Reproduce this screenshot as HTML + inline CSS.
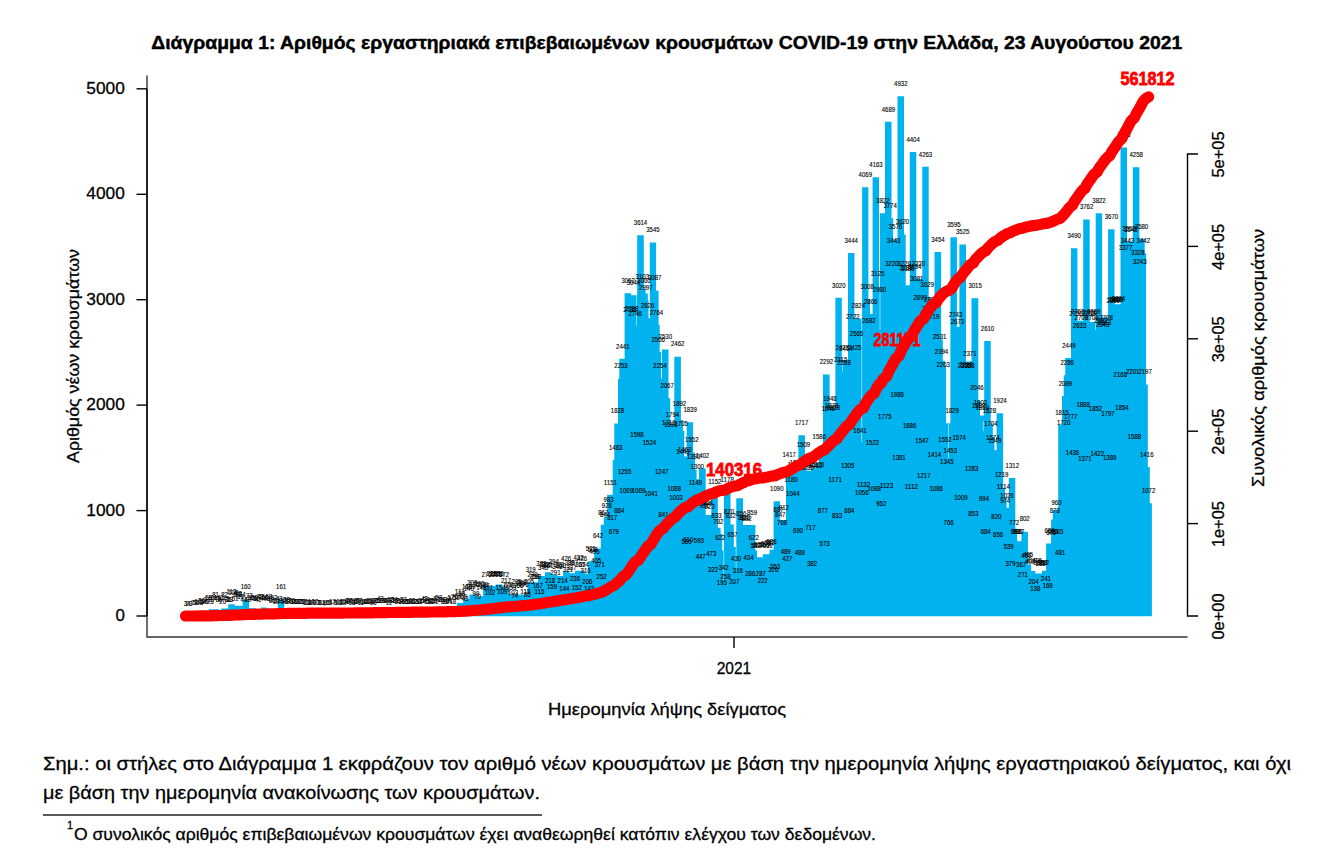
<!DOCTYPE html>
<html lang="el"><head><meta charset="utf-8"><title>Διάγραμμα 1</title>
<style>html,body{margin:0;padding:0;background:#fff;overflow:hidden}body{width:1328px;height:852px;font-family:"Liberation Sans",sans-serif}</style></head>
<body>
<svg width="1328" height="852" viewBox="0 0 1328 852" style="display:block;font-family:'Liberation Sans',sans-serif">
<style>.t text{stroke:#000;stroke-width:.28px}</style>
<rect width="1328" height="852" fill="#fff"/>
<path d="M181.75 616.20L181.75 615.78 L188.00 615.78L188.00 615.36 L193.00 615.36L193.00 614.09 L197.00 614.09L197.00 612.51 L203.00 612.51L203.00 610.93 L208.90 610.93L208.90 609.14 L218.90 609.14L218.90 610.93 L221.20 610.93L221.20 608.50 L228.30 608.50L228.30 604.29 L234.75 604.29L234.75 605.66 L242.70 605.66L242.70 599.33 L249.10 599.33L249.10 608.29 L256.00 608.29L256.00 609.24 L261.00 609.24L261.00 607.55 L266.50 607.55L266.50 609.87 L271.00 609.87L271.00 611.77 L277.90 611.77L277.90 599.23 L284.20 599.23L284.20 611.98 L290.00 611.98L290.00 613.46 L297.00 613.46L297.00 614.09 L306.00 614.09L306.00 614.72 L318.00 614.72L318.00 614.93 L330.00 614.93L330.00 614.51 L345.00 614.51L345.00 613.88 L360.00 613.88L360.00 613.25 L372.00 613.25L372.00 612.40 L384.00 612.40L384.00 613.04 L396.00 613.04L396.00 612.40 L408.00 612.40L408.00 611.77 L420.00 611.77L420.00 612.19 L432.00 612.19L432.00 611.35 L444.00 611.35L444.00 610.72 L451.00 610.72L451.00 608.82 L456.90 608.82L456.90 602.92 L463.10 602.92L463.10 599.33 L469.40 599.33L469.40 594.38 L475.60 594.38L475.60 596.17 L483.10 596.17L483.10 586.05 L495.60 586.05L495.60 584.57 L502.50 584.57L502.50 587.52 L509.40 587.52L509.40 594.59 L527.50 594.59L527.50 582.15 L538.10 582.15L538.10 575.93 L545.00 575.93L545.00 572.24 L551.25 572.24L551.25 574.66 L557.50 574.66L557.50 575.93 L563.10 575.93L563.10 571.29 L569.40 571.29L569.40 573.18 L575.00 573.18L575.00 570.65 L585.00 570.65L585.00 573.71 L588.10 573.71L588.10 561.27 L594.25 561.27L594.25 548.51 L600.75 548.51L600.75 524.79 L603.80 524.79L603.80 516.78 L607.20 516.78L607.20 494.85 L612.70 494.85L612.70 459.85 L614.30 459.85L614.30 423.47 L618.00 423.47L618.00 378.67 L619.30 378.67L619.30 358.85 L624.60 358.85L624.60 293.37 L631.20 293.37L631.20 295.27 L637.20 295.27L637.20 235.18 L643.80 235.18L643.80 289.05 L645.60 289.05L645.60 293.58 L647.80 293.58L647.80 300.23 L648.60 300.23L648.60 318.25 L649.80 318.25L649.80 242.45 L656.10 242.45L656.10 290.74 L658.60 290.74L658.60 324.79 L659.70 324.79L659.70 351.99 L661.10 351.99L661.10 378.56 L661.90 378.56L661.90 349.46 L668.50 349.46L668.50 398.28 L670.20 398.28L670.20 424.32 L674.30 424.32L674.30 356.63 L680.90 356.63L680.90 420.10 L682.90 420.10L682.90 430.64 L684.30 430.64L684.30 456.58 L686.70 456.58L686.70 422.31 L693.00 422.31L693.00 452.57 L694.90 452.57L694.90 469.65 L696.60 469.65L696.60 479.14 L699.00 479.14L699.00 468.39 L705.70 468.39L705.70 514.99 L711.30 514.99L711.30 494.74 L717.80 494.74L717.80 527.85 L720.60 527.85L720.60 533.75 L722.20 533.75L722.20 550.62 L723.90 550.62L723.90 492.00 L730.50 492.00L730.50 524.48 L733.80 524.48L733.80 546.93 L736.30 546.93L736.30 498.33 L743.00 498.33L743.00 524.90 L755.40 524.90L755.40 550.62 L757.00 550.62L757.00 557.16 L762.80 557.16L762.80 554.31 L769.50 554.31L769.50 549.78 L773.60 549.78L773.60 501.28 L779.90 501.28L779.90 520.05 L786.00 520.05L786.00 466.81 L792.30 466.81L792.30 468.60 L798.40 468.60L798.40 435.18 L804.90 435.18L804.90 457.11 L806.70 457.11L806.70 470.71 L810.90 470.71L810.90 468.18 L815.90 468.18L815.90 463.33 L819.00 463.33L819.00 448.99 L823.00 448.99L823.00 374.55 L829.60 374.55L829.60 407.55 L835.40 407.55L835.40 297.80 L841.80 297.80L841.80 360.22 L848.00 360.22L848.00 253.10 L854.40 253.10L854.40 318.47 L862.10 318.47L862.10 187.21 L868.40 187.21L868.40 299.07 L870.10 299.07L870.10 314.04 L872.60 314.04L872.60 177.29 L879.00 177.29L879.00 286.73 L880.00 286.73L880.00 213.25 L885.00 213.25L885.00 121.84 L891.50 121.84L891.50 218.31 L893.10 218.31L893.10 239.18 L897.50 239.18L897.50 96.22 L904.00 96.22L904.00 234.54 L905.70 234.54L905.70 285.15 L909.80 285.15L909.80 151.89 L916.30 151.89L916.30 278.82 L922.30 278.82L922.30 166.75 L928.70 166.75L928.70 296.85 L930.50 296.85L930.50 310.45 L934.50 310.45L934.50 252.04 L941.10 252.04L941.10 339.55 L942.80 339.55L942.80 360.85 L944.90 360.85L944.90 367.07 L946.10 367.07L946.10 423.37 L950.40 423.37L950.40 237.18 L956.90 237.18L956.90 327.01 L959.40 327.01L959.40 244.56 L966.00 244.56L966.00 361.59 L971.50 361.59L971.50 298.33 L978.30 298.33L978.30 400.49 L980.00 400.49L980.00 415.57 L984.20 415.57L984.20 341.03 L990.70 341.03L990.70 423.47 L992.80 423.47L992.80 436.55 L994.50 436.55L994.50 450.25 L996.60 450.25L996.60 413.35 L1003.10 413.35L1003.10 487.68 L1004.90 487.68L1004.90 498.75 L1006.60 498.75L1006.60 507.82 L1008.90 507.82L1008.90 477.88 L1015.30 477.88L1015.30 528.69 L1017.20 528.69L1017.20 541.13 L1021.40 541.13L1021.40 531.65 L1027.90 531.65L1027.90 564.54 L1031.20 564.54L1031.20 571.08 L1035.40 571.08L1035.40 573.50 L1042.00 573.50L1042.00 570.87 L1046.10 570.87L1046.10 543.56 L1051.10 543.56L1051.10 519.52 L1052.80 519.52L1052.80 509.93 L1058.20 509.93L1058.20 424.84 L1062.00 424.84L1062.00 395.96 L1063.70 395.96L1063.70 375.19 L1065.30 375.19L1065.30 358.00 L1071.00 358.00L1071.00 248.25 L1077.40 248.25L1077.40 320.79 L1083.20 320.79L1083.20 219.57 L1089.70 219.57L1089.70 322.05 L1095.70 322.05L1095.70 213.25 L1102.10 213.25L1102.10 317.31 L1108.10 317.31L1108.10 229.27 L1114.50 229.27L1114.50 304.13 L1120.50 304.13L1120.50 147.46 L1127.00 147.46L1127.00 241.71 L1132.80 241.71L1132.80 167.28 L1139.40 167.28L1139.40 238.76 L1144.70 238.76L1144.70 253.31 L1146.10 253.31L1146.10 384.57 L1147.80 384.57L1147.80 466.91 L1149.80 466.91L1149.80 503.18 L1151.90 503.18L1151.90 616.20Z" fill="#00b2ee"/>
<g stroke="#fff" stroke-width="0.7" stroke-opacity="0.75">
<path d="M861.7 318.0V442.0"/>
<path d="M948.5 423.0V458.0"/>
<path d="M723.8 550.0V583.0"/>
<path d="M736.1 546.0V569.0"/>
<path d="M636.5 295.0V326.0"/>
<path d="M649.4 300.0V318.0"/>
<path d="M880.0 287.0V330.0"/>
<path d="M1095.6 320.0V330.0"/>
<path d="M983.3 421.0V431.0"/>
<path d="M842.5 360.5V371.5"/>
</g>
<g font-size="7" fill="#000" stroke="#000" stroke-width="0.12" text-anchor="middle">
<text x="185.5" y="605.6" textLength="3.4" lengthAdjust="spacingAndGlyphs">3</text>
<text x="187.3" y="605.7" textLength="3.4" lengthAdjust="spacingAndGlyphs">2</text>
<text x="189.0" y="605.5" textLength="3.4" lengthAdjust="spacingAndGlyphs">4</text>
<text x="190.8" y="605.6" textLength="3.4" lengthAdjust="spacingAndGlyphs">3</text>
<text x="192.6" y="605.2" textLength="3.4" lengthAdjust="spacingAndGlyphs">7</text>
<text x="194.4" y="605.4" textLength="3.4" lengthAdjust="spacingAndGlyphs">5</text>
<text x="196.1" y="605.1" textLength="3.4" lengthAdjust="spacingAndGlyphs">8</text>
<text x="197.9" y="604.2" textLength="6.7" lengthAdjust="spacingAndGlyphs">16</text>
<text x="199.7" y="604.5" textLength="6.7" lengthAdjust="spacingAndGlyphs">13</text>
<text x="201.4" y="603.2" textLength="6.7" lengthAdjust="spacingAndGlyphs">26</text>
<text x="203.2" y="604.4" textLength="6.7" lengthAdjust="spacingAndGlyphs">14</text>
<text x="205.0" y="604.3" textLength="6.7" lengthAdjust="spacingAndGlyphs">15</text>
<text x="206.8" y="602.0" textLength="6.7" lengthAdjust="spacingAndGlyphs">37</text>
<text x="208.5" y="600.1" textLength="6.7" lengthAdjust="spacingAndGlyphs">55</text>
<text x="210.3" y="603.5" textLength="6.7" lengthAdjust="spacingAndGlyphs">23</text>
<text x="212.1" y="602.0" textLength="6.7" lengthAdjust="spacingAndGlyphs">37</text>
<text x="213.8" y="599.5" textLength="6.7" lengthAdjust="spacingAndGlyphs">61</text>
<text x="215.6" y="597.4" textLength="6.7" lengthAdjust="spacingAndGlyphs">81</text>
<text x="217.4" y="601.4" textLength="6.7" lengthAdjust="spacingAndGlyphs">43</text>
<text x="219.1" y="602.2" textLength="6.7" lengthAdjust="spacingAndGlyphs">35</text>
<text x="220.9" y="599.5" textLength="6.7" lengthAdjust="spacingAndGlyphs">61</text>
<text x="222.7" y="603.8" textLength="6.7" lengthAdjust="spacingAndGlyphs">20</text>
<text x="224.5" y="597.3" textLength="6.7" lengthAdjust="spacingAndGlyphs">82</text>
<text x="226.2" y="601.2" textLength="6.7" lengthAdjust="spacingAndGlyphs">45</text>
<text x="228.0" y="602.2" textLength="6.7" lengthAdjust="spacingAndGlyphs">35</text>
<text x="229.8" y="602.4" textLength="6.7" lengthAdjust="spacingAndGlyphs">33</text>
<text x="231.5" y="594.0" textLength="10.1" lengthAdjust="spacingAndGlyphs">113</text>
<text x="233.3" y="594.5" textLength="10.1" lengthAdjust="spacingAndGlyphs">108</text>
<text x="235.1" y="600.5" textLength="6.7" lengthAdjust="spacingAndGlyphs">51</text>
<text x="236.9" y="596.7" textLength="6.7" lengthAdjust="spacingAndGlyphs">87</text>
<text x="238.6" y="596.1" textLength="6.7" lengthAdjust="spacingAndGlyphs">93</text>
<text x="240.4" y="598.6" textLength="6.7" lengthAdjust="spacingAndGlyphs">69</text>
<text x="242.2" y="597.0" textLength="6.7" lengthAdjust="spacingAndGlyphs">84</text>
<text x="243.9" y="601.6" textLength="6.7" lengthAdjust="spacingAndGlyphs">41</text>
<text x="245.7" y="589.0" textLength="10.1" lengthAdjust="spacingAndGlyphs">160</text>
<text x="247.5" y="601.7" textLength="6.7" lengthAdjust="spacingAndGlyphs">40</text>
<text x="249.2" y="598.3" textLength="6.7" lengthAdjust="spacingAndGlyphs">72</text>
<text x="251.0" y="600.1" textLength="6.7" lengthAdjust="spacingAndGlyphs">55</text>
<text x="252.8" y="600.9" textLength="6.7" lengthAdjust="spacingAndGlyphs">47</text>
<text x="254.6" y="599.8" textLength="6.7" lengthAdjust="spacingAndGlyphs">58</text>
<text x="256.3" y="600.6" textLength="6.7" lengthAdjust="spacingAndGlyphs">50</text>
<text x="258.1" y="601.6" textLength="6.7" lengthAdjust="spacingAndGlyphs">41</text>
<text x="259.9" y="598.5" textLength="6.7" lengthAdjust="spacingAndGlyphs">70</text>
<text x="261.6" y="599.0" textLength="6.7" lengthAdjust="spacingAndGlyphs">65</text>
<text x="263.4" y="600.9" textLength="6.7" lengthAdjust="spacingAndGlyphs">47</text>
<text x="265.2" y="600.4" textLength="6.7" lengthAdjust="spacingAndGlyphs">52</text>
<text x="266.9" y="600.7" textLength="6.7" lengthAdjust="spacingAndGlyphs">49</text>
<text x="268.7" y="598.7" textLength="6.7" lengthAdjust="spacingAndGlyphs">68</text>
<text x="270.5" y="601.5" textLength="6.7" lengthAdjust="spacingAndGlyphs">42</text>
<text x="272.3" y="603.2" textLength="6.7" lengthAdjust="spacingAndGlyphs">26</text>
<text x="274.0" y="600.4" textLength="6.7" lengthAdjust="spacingAndGlyphs">52</text>
<text x="275.8" y="603.9" textLength="6.7" lengthAdjust="spacingAndGlyphs">19</text>
<text x="277.6" y="602.6" textLength="6.7" lengthAdjust="spacingAndGlyphs">31</text>
<text x="279.3" y="601.4" textLength="6.7" lengthAdjust="spacingAndGlyphs">43</text>
<text x="281.1" y="588.9" textLength="10.1" lengthAdjust="spacingAndGlyphs">161</text>
<text x="282.9" y="602.5" textLength="6.7" lengthAdjust="spacingAndGlyphs">32</text>
<text x="284.7" y="604.3" textLength="6.7" lengthAdjust="spacingAndGlyphs">15</text>
<text x="286.4" y="601.9" textLength="6.7" lengthAdjust="spacingAndGlyphs">38</text>
<text x="288.2" y="603.1" textLength="6.7" lengthAdjust="spacingAndGlyphs">27</text>
<text x="290.0" y="603.5" textLength="6.7" lengthAdjust="spacingAndGlyphs">23</text>
<text x="291.7" y="602.7" textLength="6.7" lengthAdjust="spacingAndGlyphs">30</text>
<text x="293.5" y="604.2" textLength="6.7" lengthAdjust="spacingAndGlyphs">16</text>
<text x="295.3" y="603.8" textLength="6.7" lengthAdjust="spacingAndGlyphs">20</text>
<text x="297.0" y="604.0" textLength="6.7" lengthAdjust="spacingAndGlyphs">18</text>
<text x="298.8" y="604.1" textLength="6.7" lengthAdjust="spacingAndGlyphs">17</text>
<text x="300.6" y="604.3" textLength="6.7" lengthAdjust="spacingAndGlyphs">15</text>
<text x="302.4" y="603.6" textLength="6.7" lengthAdjust="spacingAndGlyphs">22</text>
<text x="304.1" y="604.1" textLength="6.7" lengthAdjust="spacingAndGlyphs">17</text>
<text x="305.9" y="604.7" textLength="6.7" lengthAdjust="spacingAndGlyphs">11</text>
<text x="307.7" y="604.5" textLength="6.7" lengthAdjust="spacingAndGlyphs">13</text>
<text x="309.4" y="605.3" textLength="3.4" lengthAdjust="spacingAndGlyphs">6</text>
<text x="311.2" y="604.4" textLength="6.7" lengthAdjust="spacingAndGlyphs">14</text>
<text x="313.0" y="604.5" textLength="6.7" lengthAdjust="spacingAndGlyphs">13</text>
<text x="314.7" y="604.1" textLength="6.7" lengthAdjust="spacingAndGlyphs">17</text>
<text x="316.5" y="604.5" textLength="6.7" lengthAdjust="spacingAndGlyphs">13</text>
<text x="318.3" y="605.2" textLength="3.4" lengthAdjust="spacingAndGlyphs">7</text>
<text x="320.1" y="605.1" textLength="3.4" lengthAdjust="spacingAndGlyphs">8</text>
<text x="321.8" y="604.7" textLength="6.7" lengthAdjust="spacingAndGlyphs">11</text>
<text x="323.6" y="605.5" textLength="3.4" lengthAdjust="spacingAndGlyphs">4</text>
<text x="325.4" y="605.0" textLength="3.4" lengthAdjust="spacingAndGlyphs">9</text>
<text x="327.1" y="605.3" textLength="3.4" lengthAdjust="spacingAndGlyphs">6</text>
<text x="328.9" y="605.4" textLength="3.4" lengthAdjust="spacingAndGlyphs">5</text>
<text x="330.7" y="605.4" textLength="3.4" lengthAdjust="spacingAndGlyphs">5</text>
<text x="332.5" y="604.1" textLength="6.7" lengthAdjust="spacingAndGlyphs">17</text>
<text x="334.2" y="605.2" textLength="3.4" lengthAdjust="spacingAndGlyphs">7</text>
<text x="336.0" y="605.0" textLength="3.4" lengthAdjust="spacingAndGlyphs">9</text>
<text x="337.8" y="604.7" textLength="6.7" lengthAdjust="spacingAndGlyphs">11</text>
<text x="339.5" y="604.0" textLength="6.7" lengthAdjust="spacingAndGlyphs">18</text>
<text x="341.3" y="605.2" textLength="3.4" lengthAdjust="spacingAndGlyphs">7</text>
<text x="343.1" y="604.6" textLength="6.7" lengthAdjust="spacingAndGlyphs">12</text>
<text x="344.8" y="604.4" textLength="6.7" lengthAdjust="spacingAndGlyphs">14</text>
<text x="346.6" y="604.0" textLength="6.7" lengthAdjust="spacingAndGlyphs">18</text>
<text x="348.4" y="603.4" textLength="6.7" lengthAdjust="spacingAndGlyphs">24</text>
<text x="350.2" y="603.3" textLength="6.7" lengthAdjust="spacingAndGlyphs">25</text>
<text x="351.9" y="604.5" textLength="6.7" lengthAdjust="spacingAndGlyphs">13</text>
<text x="353.7" y="604.2" textLength="6.7" lengthAdjust="spacingAndGlyphs">16</text>
<text x="355.5" y="604.3" textLength="6.7" lengthAdjust="spacingAndGlyphs">15</text>
<text x="357.2" y="603.3" textLength="6.7" lengthAdjust="spacingAndGlyphs">25</text>
<text x="359.0" y="603.1" textLength="6.7" lengthAdjust="spacingAndGlyphs">27</text>
<text x="360.8" y="604.7" textLength="6.7" lengthAdjust="spacingAndGlyphs">11</text>
<text x="362.5" y="604.4" textLength="6.7" lengthAdjust="spacingAndGlyphs">14</text>
<text x="364.3" y="604.2" textLength="6.7" lengthAdjust="spacingAndGlyphs">16</text>
<text x="366.1" y="604.2" textLength="6.7" lengthAdjust="spacingAndGlyphs">16</text>
<text x="367.9" y="603.6" textLength="6.7" lengthAdjust="spacingAndGlyphs">22</text>
<text x="369.6" y="603.3" textLength="6.7" lengthAdjust="spacingAndGlyphs">25</text>
<text x="371.4" y="604.2" textLength="6.7" lengthAdjust="spacingAndGlyphs">16</text>
<text x="373.2" y="604.8" textLength="6.7" lengthAdjust="spacingAndGlyphs">10</text>
<text x="374.9" y="603.2" textLength="6.7" lengthAdjust="spacingAndGlyphs">26</text>
<text x="376.7" y="603.3" textLength="6.7" lengthAdjust="spacingAndGlyphs">25</text>
<text x="378.5" y="602.6" textLength="6.7" lengthAdjust="spacingAndGlyphs">31</text>
<text x="380.3" y="601.4" textLength="6.7" lengthAdjust="spacingAndGlyphs">43</text>
<text x="382.0" y="602.8" textLength="6.7" lengthAdjust="spacingAndGlyphs">29</text>
<text x="383.8" y="603.4" textLength="6.7" lengthAdjust="spacingAndGlyphs">24</text>
<text x="385.6" y="603.1" textLength="6.7" lengthAdjust="spacingAndGlyphs">27</text>
<text x="387.3" y="602.8" textLength="6.7" lengthAdjust="spacingAndGlyphs">29</text>
<text x="389.1" y="604.6" textLength="6.7" lengthAdjust="spacingAndGlyphs">12</text>
<text x="390.9" y="602.2" textLength="6.7" lengthAdjust="spacingAndGlyphs">35</text>
<text x="392.6" y="602.5" textLength="6.7" lengthAdjust="spacingAndGlyphs">32</text>
<text x="394.4" y="602.3" textLength="6.7" lengthAdjust="spacingAndGlyphs">34</text>
<text x="396.2" y="602.5" textLength="6.7" lengthAdjust="spacingAndGlyphs">32</text>
<text x="398.0" y="603.7" textLength="6.7" lengthAdjust="spacingAndGlyphs">21</text>
<text x="399.7" y="603.2" textLength="6.7" lengthAdjust="spacingAndGlyphs">26</text>
<text x="401.5" y="604.2" textLength="6.7" lengthAdjust="spacingAndGlyphs">16</text>
<text x="403.3" y="602.4" textLength="6.7" lengthAdjust="spacingAndGlyphs">33</text>
<text x="405.0" y="604.3" textLength="6.7" lengthAdjust="spacingAndGlyphs">15</text>
<text x="406.8" y="604.3" textLength="6.7" lengthAdjust="spacingAndGlyphs">15</text>
<text x="408.6" y="603.9" textLength="6.7" lengthAdjust="spacingAndGlyphs">19</text>
<text x="410.3" y="603.7" textLength="6.7" lengthAdjust="spacingAndGlyphs">21</text>
<text x="412.1" y="602.9" textLength="6.7" lengthAdjust="spacingAndGlyphs">28</text>
<text x="413.9" y="604.1" textLength="6.7" lengthAdjust="spacingAndGlyphs">17</text>
<text x="415.7" y="604.3" textLength="6.7" lengthAdjust="spacingAndGlyphs">15</text>
<text x="417.4" y="603.8" textLength="6.7" lengthAdjust="spacingAndGlyphs">20</text>
<text x="419.2" y="604.1" textLength="6.7" lengthAdjust="spacingAndGlyphs">17</text>
<text x="421.0" y="603.2" textLength="6.7" lengthAdjust="spacingAndGlyphs">26</text>
<text x="422.7" y="604.4" textLength="6.7" lengthAdjust="spacingAndGlyphs">14</text>
<text x="424.5" y="601.4" textLength="6.7" lengthAdjust="spacingAndGlyphs">43</text>
<text x="426.3" y="602.3" textLength="6.7" lengthAdjust="spacingAndGlyphs">34</text>
<text x="428.1" y="604.0" textLength="6.7" lengthAdjust="spacingAndGlyphs">18</text>
<text x="429.8" y="603.6" textLength="6.7" lengthAdjust="spacingAndGlyphs">22</text>
<text x="431.6" y="603.3" textLength="6.7" lengthAdjust="spacingAndGlyphs">25</text>
<text x="433.4" y="603.2" textLength="6.7" lengthAdjust="spacingAndGlyphs">26</text>
<text x="435.1" y="603.7" textLength="6.7" lengthAdjust="spacingAndGlyphs">21</text>
<text x="436.9" y="600.5" textLength="6.7" lengthAdjust="spacingAndGlyphs">51</text>
<text x="438.7" y="599.9" textLength="6.7" lengthAdjust="spacingAndGlyphs">57</text>
<text x="440.4" y="602.2" textLength="6.7" lengthAdjust="spacingAndGlyphs">35</text>
<text x="442.2" y="602.1" textLength="6.7" lengthAdjust="spacingAndGlyphs">36</text>
<text x="444.0" y="603.8" textLength="6.7" lengthAdjust="spacingAndGlyphs">20</text>
<text x="445.8" y="603.8" textLength="6.7" lengthAdjust="spacingAndGlyphs">20</text>
<text x="447.5" y="602.3" textLength="6.7" lengthAdjust="spacingAndGlyphs">34</text>
<text x="449.3" y="602.6" textLength="6.7" lengthAdjust="spacingAndGlyphs">31</text>
<text x="451.1" y="599.9" textLength="6.7" lengthAdjust="spacingAndGlyphs">57</text>
<text x="452.8" y="604.0" textLength="6.7" lengthAdjust="spacingAndGlyphs">18</text>
<text x="454.6" y="598.5" textLength="6.7" lengthAdjust="spacingAndGlyphs">70</text>
<text x="456.4" y="600.4" textLength="6.7" lengthAdjust="spacingAndGlyphs">52</text>
<text x="458.2" y="598.6" textLength="6.7" lengthAdjust="spacingAndGlyphs">69</text>
<text x="459.9" y="594.2" textLength="10.1" lengthAdjust="spacingAndGlyphs">111</text>
<text x="461.7" y="595.6" textLength="6.7" lengthAdjust="spacingAndGlyphs">98</text>
<text x="463.5" y="598.7" textLength="6.7" lengthAdjust="spacingAndGlyphs">68</text>
<text x="465.2" y="601.4" textLength="6.7" lengthAdjust="spacingAndGlyphs">43</text>
<text x="467.0" y="589.0" textLength="10.1" lengthAdjust="spacingAndGlyphs">160</text>
<text x="468.8" y="591.1" textLength="10.1" lengthAdjust="spacingAndGlyphs">140</text>
<text x="470.5" y="589.1" textLength="10.1" lengthAdjust="spacingAndGlyphs">159</text>
<text x="472.3" y="584.8" textLength="10.1" lengthAdjust="spacingAndGlyphs">200</text>
<text x="474.1" y="587.4" textLength="10.1" lengthAdjust="spacingAndGlyphs">175</text>
<text x="475.9" y="595.5" textLength="6.7" lengthAdjust="spacingAndGlyphs">99</text>
<text x="477.6" y="598.5" textLength="6.7" lengthAdjust="spacingAndGlyphs">70</text>
<text x="479.4" y="585.9" textLength="10.1" lengthAdjust="spacingAndGlyphs">190</text>
<text x="481.2" y="590.2" textLength="10.1" lengthAdjust="spacingAndGlyphs">149</text>
<text x="482.9" y="587.0" textLength="10.1" lengthAdjust="spacingAndGlyphs">179</text>
<text x="484.7" y="588.3" textLength="10.1" lengthAdjust="spacingAndGlyphs">167</text>
<text x="486.5" y="577.4" textLength="10.1" lengthAdjust="spacingAndGlyphs">270</text>
<text x="488.2" y="590.0" textLength="10.1" lengthAdjust="spacingAndGlyphs">151</text>
<text x="490.0" y="595.1" textLength="10.1" lengthAdjust="spacingAndGlyphs">102</text>
<text x="491.8" y="575.7" textLength="10.1" lengthAdjust="spacingAndGlyphs">286</text>
<text x="493.6" y="577.2" textLength="10.1" lengthAdjust="spacingAndGlyphs">272</text>
<text x="495.3" y="575.9" textLength="10.1" lengthAdjust="spacingAndGlyphs">285</text>
<text x="497.1" y="576.9" textLength="10.1" lengthAdjust="spacingAndGlyphs">275</text>
<text x="498.9" y="575.9" textLength="10.1" lengthAdjust="spacingAndGlyphs">285</text>
<text x="500.6" y="589.7" textLength="10.1" lengthAdjust="spacingAndGlyphs">154</text>
<text x="502.4" y="594.4" textLength="10.1" lengthAdjust="spacingAndGlyphs">109</text>
<text x="504.2" y="577.2" textLength="10.1" lengthAdjust="spacingAndGlyphs">272</text>
<text x="506.0" y="583.0" textLength="10.1" lengthAdjust="spacingAndGlyphs">217</text>
<text x="507.7" y="587.0" textLength="10.1" lengthAdjust="spacingAndGlyphs">179</text>
<text x="509.5" y="587.9" textLength="10.1" lengthAdjust="spacingAndGlyphs">171</text>
<text x="511.3" y="589.8" textLength="10.1" lengthAdjust="spacingAndGlyphs">153</text>
<text x="513.0" y="595.0" textLength="10.1" lengthAdjust="spacingAndGlyphs">103</text>
<text x="514.8" y="598.1" textLength="6.7" lengthAdjust="spacingAndGlyphs">74</text>
<text x="516.6" y="584.3" textLength="10.1" lengthAdjust="spacingAndGlyphs">205</text>
<text x="518.3" y="588.4" textLength="10.1" lengthAdjust="spacingAndGlyphs">166</text>
<text x="520.1" y="586.0" textLength="10.1" lengthAdjust="spacingAndGlyphs">189</text>
<text x="521.9" y="584.5" textLength="10.1" lengthAdjust="spacingAndGlyphs">203</text>
<text x="523.7" y="587.3" textLength="10.1" lengthAdjust="spacingAndGlyphs">176</text>
<text x="525.4" y="593.5" textLength="10.1" lengthAdjust="spacingAndGlyphs">118</text>
<text x="527.2" y="596.8" textLength="6.7" lengthAdjust="spacingAndGlyphs">86</text>
<text x="529.0" y="584.3" textLength="10.1" lengthAdjust="spacingAndGlyphs">205</text>
<text x="530.7" y="572.3" textLength="10.1" lengthAdjust="spacingAndGlyphs">319</text>
<text x="532.5" y="577.4" textLength="10.1" lengthAdjust="spacingAndGlyphs">270</text>
<text x="534.3" y="578.7" textLength="10.1" lengthAdjust="spacingAndGlyphs">258</text>
<text x="536.0" y="578.7" textLength="10.1" lengthAdjust="spacingAndGlyphs">258</text>
<text x="537.8" y="588.3" textLength="10.1" lengthAdjust="spacingAndGlyphs">167</text>
<text x="539.6" y="593.8" textLength="10.1" lengthAdjust="spacingAndGlyphs">115</text>
<text x="541.4" y="565.6" textLength="10.1" lengthAdjust="spacingAndGlyphs">382</text>
<text x="543.1" y="569.5" textLength="10.1" lengthAdjust="spacingAndGlyphs">345</text>
<text x="544.9" y="566.7" textLength="10.1" lengthAdjust="spacingAndGlyphs">372</text>
<text x="546.7" y="567.3" textLength="10.1" lengthAdjust="spacingAndGlyphs">366</text>
<text x="548.4" y="567.8" textLength="10.1" lengthAdjust="spacingAndGlyphs">361</text>
<text x="550.2" y="582.9" textLength="10.1" lengthAdjust="spacingAndGlyphs">218</text>
<text x="552.0" y="589.1" textLength="10.1" lengthAdjust="spacingAndGlyphs">159</text>
<text x="553.8" y="564.4" textLength="10.1" lengthAdjust="spacingAndGlyphs">394</text>
<text x="555.5" y="575.2" textLength="10.1" lengthAdjust="spacingAndGlyphs">291</text>
<text x="557.3" y="569.2" textLength="10.1" lengthAdjust="spacingAndGlyphs">348</text>
<text x="559.1" y="566.6" textLength="10.1" lengthAdjust="spacingAndGlyphs">373</text>
<text x="560.8" y="567.9" textLength="10.1" lengthAdjust="spacingAndGlyphs">360</text>
<text x="562.6" y="583.3" textLength="10.1" lengthAdjust="spacingAndGlyphs">214</text>
<text x="564.4" y="590.7" textLength="10.1" lengthAdjust="spacingAndGlyphs">144</text>
<text x="566.1" y="561.0" textLength="10.1" lengthAdjust="spacingAndGlyphs">426</text>
<text x="567.9" y="572.1" textLength="10.1" lengthAdjust="spacingAndGlyphs">321</text>
<text x="569.7" y="565.2" textLength="10.1" lengthAdjust="spacingAndGlyphs">386</text>
<text x="571.5" y="570.4" textLength="10.1" lengthAdjust="spacingAndGlyphs">337</text>
<text x="573.2" y="565.1" textLength="10.1" lengthAdjust="spacingAndGlyphs">387</text>
<text x="575.0" y="581.0" textLength="10.1" lengthAdjust="spacingAndGlyphs">236</text>
<text x="576.8" y="589.9" textLength="10.1" lengthAdjust="spacingAndGlyphs">152</text>
<text x="578.5" y="560.4" textLength="10.1" lengthAdjust="spacingAndGlyphs">432</text>
<text x="580.3" y="567.4" textLength="10.1" lengthAdjust="spacingAndGlyphs">365</text>
<text x="582.1" y="561.0" textLength="10.1" lengthAdjust="spacingAndGlyphs">426</text>
<text x="583.8" y="566.5" textLength="10.1" lengthAdjust="spacingAndGlyphs">374</text>
<text x="585.6" y="572.6" textLength="10.1" lengthAdjust="spacingAndGlyphs">316</text>
<text x="587.4" y="584.2" textLength="10.1" lengthAdjust="spacingAndGlyphs">206</text>
<text x="589.2" y="590.9" textLength="10.1" lengthAdjust="spacingAndGlyphs">142</text>
<text x="590.9" y="551.0" textLength="10.1" lengthAdjust="spacingAndGlyphs">521</text>
<text x="592.7" y="552.3" textLength="10.1" lengthAdjust="spacingAndGlyphs">508</text>
<text x="594.5" y="553.7" textLength="10.1" lengthAdjust="spacingAndGlyphs">495</text>
<text x="596.2" y="563.2" textLength="10.1" lengthAdjust="spacingAndGlyphs">405</text>
<text x="598.0" y="538.2" textLength="10.1" lengthAdjust="spacingAndGlyphs">642</text>
<text x="599.8" y="566.8" textLength="10.1" lengthAdjust="spacingAndGlyphs">371</text>
<text x="601.6" y="579.3" textLength="10.1" lengthAdjust="spacingAndGlyphs">252</text>
<text x="603.3" y="514.5" textLength="10.1" lengthAdjust="spacingAndGlyphs">867</text>
<text x="605.1" y="516.9" textLength="10.1" lengthAdjust="spacingAndGlyphs">844</text>
<text x="606.9" y="508.1" textLength="10.1" lengthAdjust="spacingAndGlyphs">928</text>
<text x="608.6" y="502.3" textLength="10.1" lengthAdjust="spacingAndGlyphs">983</text>
<text x="610.4" y="484.6" textLength="13.4" lengthAdjust="spacingAndGlyphs">1151</text>
<text x="612.2" y="519.8" textLength="10.1" lengthAdjust="spacingAndGlyphs">817</text>
<text x="613.9" y="534.3" textLength="10.1" lengthAdjust="spacingAndGlyphs">679</text>
<text x="615.7" y="449.5" textLength="13.4" lengthAdjust="spacingAndGlyphs">1483</text>
<text x="617.5" y="413.2" textLength="13.4" lengthAdjust="spacingAndGlyphs">1828</text>
<text x="619.3" y="512.7" textLength="10.1" lengthAdjust="spacingAndGlyphs">884</text>
<text x="621.0" y="368.4" textLength="13.4" lengthAdjust="spacingAndGlyphs">2253</text>
<text x="622.8" y="348.5" textLength="13.4" lengthAdjust="spacingAndGlyphs">2441</text>
<text x="624.6" y="473.6" textLength="13.4" lengthAdjust="spacingAndGlyphs">1255</text>
<text x="626.3" y="493.2" textLength="13.4" lengthAdjust="spacingAndGlyphs">1069</text>
<text x="628.1" y="283.1" textLength="13.4" lengthAdjust="spacingAndGlyphs">3062</text>
<text x="629.9" y="312.0" textLength="13.4" lengthAdjust="spacingAndGlyphs">2788</text>
<text x="631.6" y="310.9" textLength="13.4" lengthAdjust="spacingAndGlyphs">2798</text>
<text x="633.4" y="285.0" textLength="13.4" lengthAdjust="spacingAndGlyphs">3044</text>
<text x="635.2" y="316.4" textLength="13.4" lengthAdjust="spacingAndGlyphs">2746</text>
<text x="637.0" y="437.4" textLength="13.4" lengthAdjust="spacingAndGlyphs">1598</text>
<text x="638.7" y="493.2" textLength="13.4" lengthAdjust="spacingAndGlyphs">1069</text>
<text x="640.5" y="224.9" textLength="13.4" lengthAdjust="spacingAndGlyphs">3614</text>
<text x="642.3" y="278.8" textLength="13.4" lengthAdjust="spacingAndGlyphs">3103</text>
<text x="644.0" y="283.3" textLength="13.4" lengthAdjust="spacingAndGlyphs">3060</text>
<text x="645.8" y="289.9" textLength="13.4" lengthAdjust="spacingAndGlyphs">2997</text>
<text x="647.6" y="308.0" textLength="13.4" lengthAdjust="spacingAndGlyphs">2826</text>
<text x="649.4" y="445.2" textLength="13.4" lengthAdjust="spacingAndGlyphs">1524</text>
<text x="651.1" y="496.1" textLength="13.4" lengthAdjust="spacingAndGlyphs">1041</text>
<text x="652.9" y="232.2" textLength="13.4" lengthAdjust="spacingAndGlyphs">3545</text>
<text x="654.7" y="280.4" textLength="13.4" lengthAdjust="spacingAndGlyphs">3087</text>
<text x="656.4" y="314.5" textLength="13.4" lengthAdjust="spacingAndGlyphs">2764</text>
<text x="658.2" y="341.7" textLength="13.4" lengthAdjust="spacingAndGlyphs">2506</text>
<text x="660.0" y="368.3" textLength="13.4" lengthAdjust="spacingAndGlyphs">2254</text>
<text x="661.7" y="474.4" textLength="13.4" lengthAdjust="spacingAndGlyphs">1247</text>
<text x="663.5" y="517.2" textLength="10.1" lengthAdjust="spacingAndGlyphs">841</text>
<text x="665.3" y="339.2" textLength="13.4" lengthAdjust="spacingAndGlyphs">2530</text>
<text x="667.1" y="388.0" textLength="13.4" lengthAdjust="spacingAndGlyphs">2067</text>
<text x="668.8" y="425.0" textLength="13.4" lengthAdjust="spacingAndGlyphs">1716</text>
<text x="670.6" y="427.4" textLength="13.4" lengthAdjust="spacingAndGlyphs">1693</text>
<text x="672.4" y="416.8" textLength="13.4" lengthAdjust="spacingAndGlyphs">1794</text>
<text x="674.1" y="491.2" textLength="13.4" lengthAdjust="spacingAndGlyphs">1088</text>
<text x="675.9" y="500.2" textLength="13.4" lengthAdjust="spacingAndGlyphs">1003</text>
<text x="677.7" y="346.3" textLength="13.4" lengthAdjust="spacingAndGlyphs">2462</text>
<text x="679.5" y="406.4" textLength="13.4" lengthAdjust="spacingAndGlyphs">1892</text>
<text x="681.2" y="426.1" textLength="13.4" lengthAdjust="spacingAndGlyphs">1705</text>
<text x="683.0" y="453.8" textLength="13.4" lengthAdjust="spacingAndGlyphs">1443</text>
<text x="684.8" y="451.7" textLength="13.4" lengthAdjust="spacingAndGlyphs">1463</text>
<text x="686.5" y="544.1" textLength="10.1" lengthAdjust="spacingAndGlyphs">586</text>
<text x="688.3" y="541.6" textLength="10.1" lengthAdjust="spacingAndGlyphs">610</text>
<text x="690.1" y="412.0" textLength="13.4" lengthAdjust="spacingAndGlyphs">1839</text>
<text x="691.8" y="442.3" textLength="13.4" lengthAdjust="spacingAndGlyphs">1552</text>
<text x="693.6" y="459.4" textLength="13.4" lengthAdjust="spacingAndGlyphs">1390</text>
<text x="695.4" y="484.8" textLength="13.4" lengthAdjust="spacingAndGlyphs">1149</text>
<text x="697.2" y="468.8" textLength="13.4" lengthAdjust="spacingAndGlyphs">1300</text>
<text x="698.9" y="543.4" textLength="10.1" lengthAdjust="spacingAndGlyphs">593</text>
<text x="700.7" y="558.8" textLength="10.1" lengthAdjust="spacingAndGlyphs">447</text>
<text x="702.5" y="458.1" textLength="13.4" lengthAdjust="spacingAndGlyphs">1402</text>
<text x="704.2" y="507.7" textLength="10.1" lengthAdjust="spacingAndGlyphs">931</text>
<text x="706.0" y="506.4" textLength="10.1" lengthAdjust="spacingAndGlyphs">944</text>
<text x="707.8" y="505.3" textLength="10.1" lengthAdjust="spacingAndGlyphs">954</text>
<text x="709.5" y="508.6" textLength="10.1" lengthAdjust="spacingAndGlyphs">923</text>
<text x="711.3" y="556.0" textLength="10.1" lengthAdjust="spacingAndGlyphs">473</text>
<text x="713.1" y="572.0" textLength="10.1" lengthAdjust="spacingAndGlyphs">322</text>
<text x="714.9" y="484.4" textLength="13.4" lengthAdjust="spacingAndGlyphs">1152</text>
<text x="716.6" y="518.1" textLength="10.1" lengthAdjust="spacingAndGlyphs">833</text>
<text x="718.4" y="523.5" textLength="10.1" lengthAdjust="spacingAndGlyphs">782</text>
<text x="720.2" y="540.3" textLength="10.1" lengthAdjust="spacingAndGlyphs">622</text>
<text x="721.9" y="585.3" textLength="10.1" lengthAdjust="spacingAndGlyphs">195</text>
<text x="723.7" y="569.8" textLength="10.1" lengthAdjust="spacingAndGlyphs">342</text>
<text x="725.5" y="578.7" textLength="10.1" lengthAdjust="spacingAndGlyphs">258</text>
<text x="727.3" y="481.7" textLength="13.4" lengthAdjust="spacingAndGlyphs">1178</text>
<text x="729.0" y="514.2" textLength="10.1" lengthAdjust="spacingAndGlyphs">870</text>
<text x="730.8" y="518.2" textLength="10.1" lengthAdjust="spacingAndGlyphs">832</text>
<text x="732.6" y="536.6" textLength="10.1" lengthAdjust="spacingAndGlyphs">657</text>
<text x="734.3" y="584.1" textLength="10.1" lengthAdjust="spacingAndGlyphs">207</text>
<text x="736.1" y="560.6" textLength="10.1" lengthAdjust="spacingAndGlyphs">430</text>
<text x="737.9" y="572.6" textLength="10.1" lengthAdjust="spacingAndGlyphs">316</text>
<text x="739.6" y="488.0" textLength="13.4" lengthAdjust="spacingAndGlyphs">1118</text>
<text x="741.4" y="515.7" textLength="10.1" lengthAdjust="spacingAndGlyphs">856</text>
<text x="743.2" y="520.1" textLength="10.1" lengthAdjust="spacingAndGlyphs">814</text>
<text x="745.0" y="520.2" textLength="10.1" lengthAdjust="spacingAndGlyphs">813</text>
<text x="746.7" y="521.3" textLength="10.1" lengthAdjust="spacingAndGlyphs">802</text>
<text x="748.5" y="560.1" textLength="10.1" lengthAdjust="spacingAndGlyphs">434</text>
<text x="750.3" y="575.7" textLength="10.1" lengthAdjust="spacingAndGlyphs">286</text>
<text x="752.0" y="515.3" textLength="10.1" lengthAdjust="spacingAndGlyphs">859</text>
<text x="753.8" y="540.3" textLength="10.1" lengthAdjust="spacingAndGlyphs">622</text>
<text x="755.6" y="548.2" textLength="10.1" lengthAdjust="spacingAndGlyphs">547</text>
<text x="757.3" y="547.7" textLength="10.1" lengthAdjust="spacingAndGlyphs">552</text>
<text x="759.1" y="547.3" textLength="10.1" lengthAdjust="spacingAndGlyphs">556</text>
<text x="760.9" y="575.6" textLength="10.1" lengthAdjust="spacingAndGlyphs">287</text>
<text x="762.7" y="582.5" textLength="10.1" lengthAdjust="spacingAndGlyphs">222</text>
<text x="764.4" y="546.9" textLength="10.1" lengthAdjust="spacingAndGlyphs">560</text>
<text x="766.2" y="545.5" textLength="10.1" lengthAdjust="spacingAndGlyphs">573</text>
<text x="768.0" y="547.7" textLength="10.1" lengthAdjust="spacingAndGlyphs">552</text>
<text x="769.7" y="544.5" textLength="10.1" lengthAdjust="spacingAndGlyphs">582</text>
<text x="771.5" y="544.1" textLength="10.1" lengthAdjust="spacingAndGlyphs">586</text>
<text x="773.3" y="571.5" textLength="10.1" lengthAdjust="spacingAndGlyphs">326</text>
<text x="775.1" y="568.7" textLength="10.1" lengthAdjust="spacingAndGlyphs">353</text>
<text x="776.8" y="491.0" textLength="13.4" lengthAdjust="spacingAndGlyphs">1090</text>
<text x="778.6" y="512.4" textLength="10.1" lengthAdjust="spacingAndGlyphs">887</text>
<text x="780.4" y="516.6" textLength="10.1" lengthAdjust="spacingAndGlyphs">847</text>
<text x="782.1" y="524.9" textLength="10.1" lengthAdjust="spacingAndGlyphs">768</text>
<text x="783.9" y="509.7" textLength="10.1" lengthAdjust="spacingAndGlyphs">912</text>
<text x="785.7" y="554.3" textLength="10.1" lengthAdjust="spacingAndGlyphs">489</text>
<text x="787.4" y="560.9" textLength="10.1" lengthAdjust="spacingAndGlyphs">427</text>
<text x="789.2" y="456.5" textLength="13.4" lengthAdjust="spacingAndGlyphs">1417</text>
<text x="791.0" y="481.5" textLength="13.4" lengthAdjust="spacingAndGlyphs">1180</text>
<text x="792.8" y="495.8" textLength="13.4" lengthAdjust="spacingAndGlyphs">1044</text>
<text x="794.5" y="466.6" textLength="13.4" lengthAdjust="spacingAndGlyphs">1321</text>
<text x="796.3" y="465.4" textLength="13.4" lengthAdjust="spacingAndGlyphs">1333</text>
<text x="798.1" y="533.2" textLength="10.1" lengthAdjust="spacingAndGlyphs">690</text>
<text x="799.8" y="554.5" textLength="10.1" lengthAdjust="spacingAndGlyphs">488</text>
<text x="801.6" y="424.9" textLength="13.4" lengthAdjust="spacingAndGlyphs">1717</text>
<text x="803.4" y="446.8" textLength="13.4" lengthAdjust="spacingAndGlyphs">1509</text>
<text x="805.1" y="466.1" textLength="13.4" lengthAdjust="spacingAndGlyphs">1326</text>
<text x="806.9" y="470.4" textLength="13.4" lengthAdjust="spacingAndGlyphs">1285</text>
<text x="808.7" y="467.3" textLength="13.4" lengthAdjust="spacingAndGlyphs">1315</text>
<text x="810.5" y="530.3" textLength="10.1" lengthAdjust="spacingAndGlyphs">717</text>
<text x="812.2" y="565.6" textLength="10.1" lengthAdjust="spacingAndGlyphs">382</text>
<text x="814.0" y="457.9" textLength="13.4" lengthAdjust="spacingAndGlyphs">1404</text>
<text x="815.8" y="467.6" textLength="13.4" lengthAdjust="spacingAndGlyphs">1312</text>
<text x="817.5" y="466.7" textLength="13.4" lengthAdjust="spacingAndGlyphs">1320</text>
<text x="819.3" y="438.7" textLength="13.4" lengthAdjust="spacingAndGlyphs">1586</text>
<text x="821.1" y="453.3" textLength="13.4" lengthAdjust="spacingAndGlyphs">1447</text>
<text x="822.9" y="513.4" textLength="10.1" lengthAdjust="spacingAndGlyphs">877</text>
<text x="824.6" y="545.5" textLength="10.1" lengthAdjust="spacingAndGlyphs">573</text>
<text x="826.4" y="364.3" textLength="13.4" lengthAdjust="spacingAndGlyphs">2292</text>
<text x="828.2" y="411.3" textLength="13.4" lengthAdjust="spacingAndGlyphs">1846</text>
<text x="829.9" y="400.5" textLength="13.4" lengthAdjust="spacingAndGlyphs">1948</text>
<text x="831.7" y="407.9" textLength="13.4" lengthAdjust="spacingAndGlyphs">1878</text>
<text x="833.5" y="410.0" textLength="13.4" lengthAdjust="spacingAndGlyphs">1858</text>
<text x="835.2" y="482.4" textLength="13.4" lengthAdjust="spacingAndGlyphs">1171</text>
<text x="837.0" y="518.1" textLength="10.1" lengthAdjust="spacingAndGlyphs">833</text>
<text x="838.8" y="287.5" textLength="13.4" lengthAdjust="spacingAndGlyphs">3020</text>
<text x="840.6" y="361.8" textLength="13.4" lengthAdjust="spacingAndGlyphs">2315</text>
<text x="842.3" y="349.9" textLength="13.4" lengthAdjust="spacingAndGlyphs">2428</text>
<text x="844.1" y="364.7" textLength="13.4" lengthAdjust="spacingAndGlyphs">2288</text>
<text x="845.9" y="351.4" textLength="13.4" lengthAdjust="spacingAndGlyphs">2414</text>
<text x="847.6" y="468.3" textLength="13.4" lengthAdjust="spacingAndGlyphs">1305</text>
<text x="849.4" y="512.7" textLength="10.1" lengthAdjust="spacingAndGlyphs">884</text>
<text x="851.2" y="242.8" textLength="13.4" lengthAdjust="spacingAndGlyphs">3444</text>
<text x="852.9" y="318.9" textLength="13.4" lengthAdjust="spacingAndGlyphs">2722</text>
<text x="854.7" y="350.2" textLength="13.4" lengthAdjust="spacingAndGlyphs">2425</text>
<text x="856.5" y="335.5" textLength="13.4" lengthAdjust="spacingAndGlyphs">2565</text>
<text x="858.3" y="308.2" textLength="13.4" lengthAdjust="spacingAndGlyphs">2824</text>
<text x="860.0" y="432.9" textLength="13.4" lengthAdjust="spacingAndGlyphs">1641</text>
<text x="861.8" y="494.6" textLength="13.4" lengthAdjust="spacingAndGlyphs">1056</text>
<text x="863.6" y="486.6" textLength="13.4" lengthAdjust="spacingAndGlyphs">1132</text>
<text x="865.3" y="176.9" textLength="13.4" lengthAdjust="spacingAndGlyphs">4069</text>
<text x="867.1" y="288.8" textLength="13.4" lengthAdjust="spacingAndGlyphs">3008</text>
<text x="868.9" y="323.1" textLength="13.4" lengthAdjust="spacingAndGlyphs">2682</text>
<text x="870.7" y="303.7" textLength="13.4" lengthAdjust="spacingAndGlyphs">2866</text>
<text x="872.4" y="445.4" textLength="13.4" lengthAdjust="spacingAndGlyphs">1522</text>
<text x="874.2" y="491.2" textLength="13.4" lengthAdjust="spacingAndGlyphs">1088</text>
<text x="876.0" y="167.0" textLength="13.4" lengthAdjust="spacingAndGlyphs">4163</text>
<text x="877.7" y="276.4" textLength="13.4" lengthAdjust="spacingAndGlyphs">3125</text>
<text x="879.5" y="291.7" textLength="13.4" lengthAdjust="spacingAndGlyphs">2980</text>
<text x="881.3" y="505.5" textLength="10.1" lengthAdjust="spacingAndGlyphs">952</text>
<text x="883.0" y="202.9" textLength="13.4" lengthAdjust="spacingAndGlyphs">3822</text>
<text x="884.8" y="418.8" textLength="13.4" lengthAdjust="spacingAndGlyphs">1775</text>
<text x="886.6" y="487.5" textLength="13.4" lengthAdjust="spacingAndGlyphs">1123</text>
<text x="888.4" y="111.5" textLength="13.4" lengthAdjust="spacingAndGlyphs">4689</text>
<text x="890.1" y="208.0" textLength="13.4" lengthAdjust="spacingAndGlyphs">3774</text>
<text x="891.9" y="266.4" textLength="13.4" lengthAdjust="spacingAndGlyphs">3220</text>
<text x="893.7" y="242.9" textLength="13.4" lengthAdjust="spacingAndGlyphs">3443</text>
<text x="895.4" y="228.9" textLength="13.4" lengthAdjust="spacingAndGlyphs">3576</text>
<text x="897.2" y="396.5" textLength="13.4" lengthAdjust="spacingAndGlyphs">1986</text>
<text x="899.0" y="460.3" textLength="13.4" lengthAdjust="spacingAndGlyphs">1381</text>
<text x="900.8" y="85.9" textLength="13.4" lengthAdjust="spacingAndGlyphs">4932</text>
<text x="902.5" y="224.2" textLength="13.4" lengthAdjust="spacingAndGlyphs">3620</text>
<text x="904.3" y="265.8" textLength="13.4" lengthAdjust="spacingAndGlyphs">3226</text>
<text x="906.1" y="269.8" textLength="13.4" lengthAdjust="spacingAndGlyphs">3188</text>
<text x="907.8" y="270.6" textLength="13.4" lengthAdjust="spacingAndGlyphs">3180</text>
<text x="909.6" y="428.1" textLength="13.4" lengthAdjust="spacingAndGlyphs">1686</text>
<text x="911.4" y="488.7" textLength="13.4" lengthAdjust="spacingAndGlyphs">1112</text>
<text x="913.1" y="141.6" textLength="13.4" lengthAdjust="spacingAndGlyphs">4404</text>
<text x="914.9" y="269.2" textLength="13.4" lengthAdjust="spacingAndGlyphs">3194</text>
<text x="916.7" y="281.1" textLength="13.4" lengthAdjust="spacingAndGlyphs">3081</text>
<text x="918.5" y="266.4" textLength="13.4" lengthAdjust="spacingAndGlyphs">3220</text>
<text x="920.2" y="300.3" textLength="13.4" lengthAdjust="spacingAndGlyphs">2899</text>
<text x="922.0" y="442.8" textLength="13.4" lengthAdjust="spacingAndGlyphs">1547</text>
<text x="923.8" y="477.6" textLength="13.4" lengthAdjust="spacingAndGlyphs">1217</text>
<text x="925.5" y="156.5" textLength="13.4" lengthAdjust="spacingAndGlyphs">4263</text>
<text x="927.3" y="286.6" textLength="13.4" lengthAdjust="spacingAndGlyphs">3029</text>
<text x="929.1" y="311.4" textLength="13.4" lengthAdjust="spacingAndGlyphs">2793</text>
<text x="930.8" y="301.5" textLength="13.4" lengthAdjust="spacingAndGlyphs">2887</text>
<text x="932.6" y="319.2" textLength="13.4" lengthAdjust="spacingAndGlyphs">2719</text>
<text x="934.4" y="456.8" textLength="13.4" lengthAdjust="spacingAndGlyphs">1414</text>
<text x="936.2" y="491.4" textLength="13.4" lengthAdjust="spacingAndGlyphs">1086</text>
<text x="937.9" y="241.7" textLength="13.4" lengthAdjust="spacingAndGlyphs">3454</text>
<text x="939.7" y="339.1" textLength="13.4" lengthAdjust="spacingAndGlyphs">2531</text>
<text x="941.5" y="353.5" textLength="13.4" lengthAdjust="spacingAndGlyphs">2394</text>
<text x="943.2" y="367.3" textLength="13.4" lengthAdjust="spacingAndGlyphs">2263</text>
<text x="945.0" y="442.3" textLength="13.4" lengthAdjust="spacingAndGlyphs">1552</text>
<text x="946.8" y="464.1" textLength="13.4" lengthAdjust="spacingAndGlyphs">1345</text>
<text x="948.6" y="525.1" textLength="10.1" lengthAdjust="spacingAndGlyphs">766</text>
<text x="950.3" y="452.7" textLength="13.4" lengthAdjust="spacingAndGlyphs">1453</text>
<text x="952.1" y="413.1" textLength="13.4" lengthAdjust="spacingAndGlyphs">1829</text>
<text x="953.9" y="226.9" textLength="13.4" lengthAdjust="spacingAndGlyphs">3595</text>
<text x="955.6" y="316.7" textLength="13.4" lengthAdjust="spacingAndGlyphs">2743</text>
<text x="957.4" y="324.1" textLength="13.4" lengthAdjust="spacingAndGlyphs">2673</text>
<text x="959.2" y="440.0" textLength="13.4" lengthAdjust="spacingAndGlyphs">1574</text>
<text x="960.9" y="499.5" textLength="13.4" lengthAdjust="spacingAndGlyphs">1009</text>
<text x="962.7" y="234.3" textLength="13.4" lengthAdjust="spacingAndGlyphs">3525</text>
<text x="964.5" y="368.2" textLength="13.4" lengthAdjust="spacingAndGlyphs">2255</text>
<text x="966.3" y="366.8" textLength="13.4" lengthAdjust="spacingAndGlyphs">2268</text>
<text x="968.0" y="367.8" textLength="13.4" lengthAdjust="spacingAndGlyphs">2258</text>
<text x="969.8" y="355.9" textLength="13.4" lengthAdjust="spacingAndGlyphs">2371</text>
<text x="971.6" y="470.6" textLength="13.4" lengthAdjust="spacingAndGlyphs">1283</text>
<text x="973.3" y="516.0" textLength="10.1" lengthAdjust="spacingAndGlyphs">853</text>
<text x="975.1" y="288.0" textLength="13.4" lengthAdjust="spacingAndGlyphs">3015</text>
<text x="976.9" y="390.2" textLength="13.4" lengthAdjust="spacingAndGlyphs">2046</text>
<text x="978.6" y="407.5" textLength="13.4" lengthAdjust="spacingAndGlyphs">1882</text>
<text x="980.4" y="405.3" textLength="13.4" lengthAdjust="spacingAndGlyphs">1903</text>
<text x="982.2" y="409.9" textLength="13.4" lengthAdjust="spacingAndGlyphs">1859</text>
<text x="984.0" y="501.1" textLength="10.1" lengthAdjust="spacingAndGlyphs">994</text>
<text x="985.7" y="533.8" textLength="10.1" lengthAdjust="spacingAndGlyphs">684</text>
<text x="987.5" y="330.7" textLength="13.4" lengthAdjust="spacingAndGlyphs">2610</text>
<text x="989.3" y="413.2" textLength="13.4" lengthAdjust="spacingAndGlyphs">1828</text>
<text x="991.0" y="426.2" textLength="13.4" lengthAdjust="spacingAndGlyphs">1704</text>
<text x="992.8" y="440.0" textLength="13.4" lengthAdjust="spacingAndGlyphs">1574</text>
<text x="994.6" y="442.6" textLength="13.4" lengthAdjust="spacingAndGlyphs">1549</text>
<text x="996.4" y="519.4" textLength="10.1" lengthAdjust="spacingAndGlyphs">820</text>
<text x="998.1" y="536.7" textLength="10.1" lengthAdjust="spacingAndGlyphs">656</text>
<text x="999.9" y="403.1" textLength="13.4" lengthAdjust="spacingAndGlyphs">1924</text>
<text x="1001.7" y="477.4" textLength="13.4" lengthAdjust="spacingAndGlyphs">1219</text>
<text x="1003.4" y="488.5" textLength="13.4" lengthAdjust="spacingAndGlyphs">1114</text>
<text x="1005.2" y="503.2" textLength="10.1" lengthAdjust="spacingAndGlyphs">974</text>
<text x="1007.0" y="497.7" textLength="13.4" lengthAdjust="spacingAndGlyphs">1026</text>
<text x="1008.7" y="549.1" textLength="10.1" lengthAdjust="spacingAndGlyphs">539</text>
<text x="1010.5" y="565.9" textLength="10.1" lengthAdjust="spacingAndGlyphs">379</text>
<text x="1012.3" y="467.6" textLength="13.4" lengthAdjust="spacingAndGlyphs">1312</text>
<text x="1014.1" y="524.5" textLength="10.1" lengthAdjust="spacingAndGlyphs">772</text>
<text x="1015.8" y="534.1" textLength="10.1" lengthAdjust="spacingAndGlyphs">681</text>
<text x="1017.6" y="533.6" textLength="10.1" lengthAdjust="spacingAndGlyphs">686</text>
<text x="1019.4" y="533.5" textLength="10.1" lengthAdjust="spacingAndGlyphs">687</text>
<text x="1021.1" y="567.2" textLength="10.1" lengthAdjust="spacingAndGlyphs">367</text>
<text x="1022.9" y="577.3" textLength="10.1" lengthAdjust="spacingAndGlyphs">271</text>
<text x="1024.7" y="521.3" textLength="10.1" lengthAdjust="spacingAndGlyphs">802</text>
<text x="1026.4" y="557.8" textLength="10.1" lengthAdjust="spacingAndGlyphs">456</text>
<text x="1028.2" y="556.9" textLength="10.1" lengthAdjust="spacingAndGlyphs">465</text>
<text x="1030.0" y="563.6" textLength="10.1" lengthAdjust="spacingAndGlyphs">401</text>
<text x="1031.8" y="562.7" textLength="10.1" lengthAdjust="spacingAndGlyphs">410</text>
<text x="1033.5" y="584.4" textLength="10.1" lengthAdjust="spacingAndGlyphs">204</text>
<text x="1035.3" y="591.4" textLength="10.1" lengthAdjust="spacingAndGlyphs">138</text>
<text x="1037.1" y="563.2" textLength="10.1" lengthAdjust="spacingAndGlyphs">405</text>
<text x="1038.8" y="565.3" textLength="10.1" lengthAdjust="spacingAndGlyphs">385</text>
<text x="1040.6" y="565.5" textLength="10.1" lengthAdjust="spacingAndGlyphs">383</text>
<text x="1042.4" y="564.5" textLength="10.1" lengthAdjust="spacingAndGlyphs">393</text>
<text x="1044.2" y="564.6" textLength="10.1" lengthAdjust="spacingAndGlyphs">392</text>
<text x="1045.9" y="580.5" textLength="10.1" lengthAdjust="spacingAndGlyphs">241</text>
<text x="1047.7" y="588.1" textLength="10.1" lengthAdjust="spacingAndGlyphs">169</text>
<text x="1049.5" y="533.3" textLength="10.1" lengthAdjust="spacingAndGlyphs">689</text>
<text x="1051.2" y="534.7" textLength="10.1" lengthAdjust="spacingAndGlyphs">675</text>
<text x="1053.0" y="533.9" textLength="10.1" lengthAdjust="spacingAndGlyphs">683</text>
<text x="1054.8" y="513.3" textLength="10.1" lengthAdjust="spacingAndGlyphs">878</text>
<text x="1056.5" y="504.7" textLength="10.1" lengthAdjust="spacingAndGlyphs">960</text>
<text x="1058.3" y="533.7" textLength="10.1" lengthAdjust="spacingAndGlyphs">685</text>
<text x="1060.1" y="555.2" textLength="10.1" lengthAdjust="spacingAndGlyphs">481</text>
<text x="1061.9" y="414.5" textLength="13.4" lengthAdjust="spacingAndGlyphs">1815</text>
<text x="1063.6" y="424.6" textLength="13.4" lengthAdjust="spacingAndGlyphs">1720</text>
<text x="1065.4" y="385.7" textLength="13.4" lengthAdjust="spacingAndGlyphs">2089</text>
<text x="1067.2" y="364.9" textLength="13.4" lengthAdjust="spacingAndGlyphs">2286</text>
<text x="1068.9" y="347.7" textLength="13.4" lengthAdjust="spacingAndGlyphs">2449</text>
<text x="1070.7" y="418.6" textLength="13.4" lengthAdjust="spacingAndGlyphs">1777</text>
<text x="1072.5" y="454.5" textLength="13.4" lengthAdjust="spacingAndGlyphs">1436</text>
<text x="1074.2" y="237.9" textLength="13.4" lengthAdjust="spacingAndGlyphs">3490</text>
<text x="1076.0" y="316.0" textLength="13.4" lengthAdjust="spacingAndGlyphs">2750</text>
<text x="1077.8" y="314.4" textLength="13.4" lengthAdjust="spacingAndGlyphs">2765</text>
<text x="1079.6" y="328.3" textLength="13.4" lengthAdjust="spacingAndGlyphs">2633</text>
<text x="1081.3" y="320.3" textLength="13.4" lengthAdjust="spacingAndGlyphs">2709</text>
<text x="1083.1" y="406.8" textLength="13.4" lengthAdjust="spacingAndGlyphs">1888</text>
<text x="1084.9" y="461.4" textLength="13.4" lengthAdjust="spacingAndGlyphs">1371</text>
<text x="1086.6" y="209.3" textLength="13.4" lengthAdjust="spacingAndGlyphs">3762</text>
<text x="1088.4" y="315.8" textLength="13.4" lengthAdjust="spacingAndGlyphs">2752</text>
<text x="1090.2" y="315.3" textLength="13.4" lengthAdjust="spacingAndGlyphs">2756</text>
<text x="1092.0" y="320.3" textLength="13.4" lengthAdjust="spacingAndGlyphs">2709</text>
<text x="1093.7" y="314.0" textLength="13.4" lengthAdjust="spacingAndGlyphs">2769</text>
<text x="1095.5" y="410.6" textLength="13.4" lengthAdjust="spacingAndGlyphs">1852</text>
<text x="1097.3" y="456.0" textLength="13.4" lengthAdjust="spacingAndGlyphs">1422</text>
<text x="1099.0" y="202.9" textLength="13.4" lengthAdjust="spacingAndGlyphs">3822</text>
<text x="1100.8" y="323.1" textLength="13.4" lengthAdjust="spacingAndGlyphs">2682</text>
<text x="1102.6" y="327.2" textLength="13.4" lengthAdjust="spacingAndGlyphs">2643</text>
<text x="1104.3" y="325.1" textLength="13.4" lengthAdjust="spacingAndGlyphs">2663</text>
<text x="1106.1" y="320.4" textLength="13.4" lengthAdjust="spacingAndGlyphs">2708</text>
<text x="1107.9" y="416.4" textLength="13.4" lengthAdjust="spacingAndGlyphs">1797</text>
<text x="1109.7" y="459.5" textLength="13.4" lengthAdjust="spacingAndGlyphs">1389</text>
<text x="1111.4" y="219.0" textLength="13.4" lengthAdjust="spacingAndGlyphs">3670</text>
<text x="1113.2" y="303.4" textLength="13.4" lengthAdjust="spacingAndGlyphs">2869</text>
<text x="1115.0" y="301.9" textLength="13.4" lengthAdjust="spacingAndGlyphs">2883</text>
<text x="1116.7" y="301.9" textLength="13.4" lengthAdjust="spacingAndGlyphs">2883</text>
<text x="1118.5" y="300.8" textLength="13.4" lengthAdjust="spacingAndGlyphs">2894</text>
<text x="1120.3" y="377.3" textLength="13.4" lengthAdjust="spacingAndGlyphs">2168</text>
<text x="1122.0" y="410.4" textLength="13.4" lengthAdjust="spacingAndGlyphs">1854</text>
<text x="1123.8" y="137.2" textLength="13.4" lengthAdjust="spacingAndGlyphs">4446</text>
<text x="1125.6" y="249.9" textLength="13.4" lengthAdjust="spacingAndGlyphs">3377</text>
<text x="1127.4" y="242.9" textLength="13.4" lengthAdjust="spacingAndGlyphs">3443</text>
<text x="1129.1" y="231.4" textLength="13.4" lengthAdjust="spacingAndGlyphs">3552</text>
<text x="1130.9" y="231.8" textLength="13.4" lengthAdjust="spacingAndGlyphs">3548</text>
<text x="1132.7" y="373.8" textLength="13.4" lengthAdjust="spacingAndGlyphs">2201</text>
<text x="1134.4" y="438.5" textLength="13.4" lengthAdjust="spacingAndGlyphs">1588</text>
<text x="1136.2" y="157.0" textLength="13.4" lengthAdjust="spacingAndGlyphs">4258</text>
<text x="1138.0" y="255.0" textLength="13.4" lengthAdjust="spacingAndGlyphs">3328</text>
<text x="1139.8" y="264.0" textLength="13.4" lengthAdjust="spacingAndGlyphs">3243</text>
<text x="1141.5" y="228.5" textLength="13.4" lengthAdjust="spacingAndGlyphs">3580</text>
<text x="1143.3" y="243.0" textLength="13.4" lengthAdjust="spacingAndGlyphs">3442</text>
<text x="1145.1" y="374.3" textLength="13.4" lengthAdjust="spacingAndGlyphs">2197</text>
<text x="1146.8" y="456.6" textLength="13.4" lengthAdjust="spacingAndGlyphs">1416</text>
<text x="1148.6" y="492.9" textLength="13.4" lengthAdjust="spacingAndGlyphs">1072</text>
</g>
<path d="M185.5 616.0L187.3 616.0L189.0 616.0L190.8 616.0L192.6 616.0L194.4 616.0L196.1 616.0L197.9 616.0L199.7 615.9L201.4 615.9L203.2 615.9L205.0 615.9L206.8 615.9L208.5 615.8L210.3 615.8L212.1 615.8L213.8 615.7L215.6 615.6L217.4 615.6L219.1 615.5L220.9 615.5L222.7 615.5L224.5 615.4L226.2 615.4L228.0 615.3L229.8 615.3L231.5 615.2L233.3 615.1L235.1 615.0L236.9 615.0L238.6 614.9L240.4 614.8L242.2 614.7L243.9 614.7L245.7 614.5L247.5 614.5L249.2 614.4L251.0 614.4L252.8 614.3L254.6 614.3L256.3 614.2L258.1 614.2L259.9 614.1L261.6 614.1L263.4 614.0L265.2 614.0L266.9 613.9L268.7 613.9L270.5 613.8L272.3 613.8L274.0 613.8L275.8 613.8L277.6 613.7L279.3 613.7L281.1 613.5L282.9 613.5L284.7 613.5L286.4 613.5L288.2 613.4L290.0 613.4L291.7 613.4L293.5 613.4L295.3 613.3L297.0 613.3L298.8 613.3L300.6 613.3L302.4 613.3L304.1 613.3L305.9 613.3L307.7 613.2L309.4 613.2L311.2 613.2L313.0 613.2L314.7 613.2L316.5 613.2L318.3 613.2L320.1 613.2L321.8 613.2L323.6 613.2L325.4 613.1L327.1 613.1L328.9 613.1L330.7 613.1L332.5 613.1L334.2 613.1L336.0 613.1L337.8 613.1L339.5 613.1L341.3 613.1L343.1 613.1L344.8 613.0L346.6 613.0L348.4 613.0L350.2 613.0L351.9 613.0L353.7 613.0L355.5 612.9L357.2 612.9L359.0 612.9L360.8 612.9L362.5 612.9L364.3 612.9L366.1 612.8L367.9 612.8L369.6 612.8L371.4 612.8L373.2 612.8L374.9 612.7L376.7 612.7L378.5 612.7L380.3 612.7L382.0 612.6L383.8 612.6L385.6 612.6L387.3 612.6L389.1 612.5L390.9 612.5L392.6 612.5L394.4 612.5L396.2 612.4L398.0 612.4L399.7 612.4L401.5 612.4L403.3 612.3L405.0 612.3L406.8 612.3L408.6 612.3L410.3 612.3L412.1 612.2L413.9 612.2L415.7 612.2L417.4 612.2L419.2 612.2L421.0 612.2L422.7 612.1L424.5 612.1L426.3 612.1L428.1 612.1L429.8 612.0L431.6 612.0L433.4 612.0L435.1 612.0L436.9 611.9L438.7 611.9L440.4 611.8L442.2 611.8L444.0 611.8L445.8 611.8L447.5 611.7L449.3 611.7L451.1 611.6L452.8 611.6L454.6 611.6L456.4 611.5L458.2 611.5L459.9 611.4L461.7 611.3L463.5 611.2L465.2 611.2L467.0 611.0L468.8 610.9L470.5 610.7L472.3 610.5L474.1 610.4L475.9 610.3L477.6 610.2L479.4 610.0L481.2 609.9L482.9 609.7L484.7 609.6L486.5 609.3L488.2 609.2L490.0 609.1L491.8 608.8L493.6 608.6L495.3 608.3L497.1 608.1L498.9 607.8L500.6 607.7L502.4 607.6L504.2 607.3L506.0 607.1L507.7 606.9L509.5 606.8L511.3 606.6L513.0 606.5L514.8 606.5L516.6 606.3L518.3 606.1L520.1 606.0L521.9 605.8L523.7 605.6L525.4 605.5L527.2 605.4L529.0 605.2L530.7 604.9L532.5 604.7L534.3 604.4L536.0 604.2L537.8 604.0L539.6 603.9L541.4 603.6L543.1 603.3L544.9 602.9L546.7 602.6L548.4 602.2L550.2 602.0L552.0 601.9L553.8 601.5L555.5 601.3L557.3 600.9L559.1 600.6L560.8 600.3L562.6 600.1L564.4 599.9L566.1 599.5L567.9 599.2L569.7 598.9L571.5 598.6L573.2 598.2L575.0 598.0L576.8 597.8L578.5 597.4L580.3 597.1L582.1 596.7L583.8 596.3L585.6 596.0L587.4 595.8L589.2 595.6L590.9 595.1L592.7 594.6L594.5 594.2L596.2 593.8L598.0 593.2L599.8 592.8L601.6 592.4L603.3 591.5L605.1 590.5L606.9 589.5L608.6 588.4L610.4 587.2L612.2 586.3L613.9 585.5L615.7 584.0L617.5 582.1L619.3 581.1L621.0 578.9L622.8 576.7L624.6 575.6L626.3 574.7L628.1 571.9L629.9 569.4L631.6 566.9L633.4 564.1L635.2 561.8L637.0 560.7L638.7 560.0L640.5 556.9L642.3 554.3L644.0 551.8L645.8 549.3L647.6 546.6L649.4 545.1L651.1 544.0L652.9 540.6L654.7 537.7L656.4 535.0L658.2 532.6L660.0 530.4L661.7 529.1L663.5 528.2L665.3 525.8L667.1 523.8L668.8 522.0L670.6 520.4L672.4 518.6L674.1 517.5L675.9 516.4L677.7 514.0L679.5 512.2L681.2 510.5L683.0 509.1L684.8 507.7L686.5 507.2L688.3 506.6L690.1 504.9L691.8 503.4L693.6 502.1L695.4 501.0L697.2 499.8L698.9 499.2L700.7 498.8L702.5 497.5L704.2 496.7L706.0 495.8L707.8 495.0L709.5 494.2L711.3 493.8L713.1 493.5L714.9 492.5L716.6 491.8L718.4 491.1L720.2 490.6L721.9 490.5L723.7 490.1L725.5 489.9L727.3 488.8L729.0 487.9L730.8 487.1L732.6 486.5L734.3 486.3L736.1 485.9L737.9 485.5L739.6 484.4L741.4 483.6L743.2 482.7L745.0 481.9L746.7 481.1L748.5 480.7L750.3 480.3L752.0 479.5L753.8 479.1L755.6 478.7L757.3 478.4L759.1 478.0L760.9 477.9L762.7 477.9L764.4 477.6L766.2 477.2L768.0 476.9L769.7 476.5L771.5 476.1L773.3 475.9L775.1 475.7L776.8 474.8L778.6 474.2L780.4 473.5L782.1 472.9L783.9 472.2L785.7 471.9L787.4 471.6L789.2 470.5L791.0 469.4L792.8 468.5L794.5 467.3L796.3 466.1L798.1 465.5L799.8 465.0L801.6 463.5L803.4 462.1L805.1 460.9L806.9 459.7L808.7 458.5L810.5 457.9L812.2 457.6L814.0 456.3L815.8 455.1L817.5 453.9L819.3 452.5L821.1 451.2L822.9 450.4L824.6 449.9L826.4 447.8L828.2 446.1L829.9 444.3L831.7 442.5L833.5 440.7L835.2 439.6L837.0 438.8L838.8 435.9L840.6 433.7L842.3 431.4L844.1 429.2L845.9 426.9L847.6 425.6L849.4 424.7L851.2 421.5L852.9 418.9L854.7 416.6L856.5 414.2L858.3 411.5L860.0 409.9L861.8 408.8L863.6 407.7L865.3 403.9L867.1 401.1L868.9 398.6L870.7 395.9L872.4 394.5L874.2 393.4L876.0 389.6L877.7 386.6L879.5 383.9L881.3 383.0L883.0 379.4L884.8 377.7L886.6 376.7L888.4 372.3L890.1 368.8L891.9 365.8L893.7 362.5L895.4 359.2L897.2 357.3L899.0 356.0L900.8 351.4L902.5 348.1L904.3 345.1L906.1 342.1L907.8 339.2L909.6 337.7L911.4 336.6L913.1 332.6L914.9 329.6L916.7 326.8L918.5 323.8L920.2 321.1L922.0 319.7L923.8 318.6L925.5 314.7L927.3 312.0L929.1 309.6L930.8 307.1L932.6 304.7L934.4 303.6L936.2 302.7L937.9 299.7L939.7 297.5L941.5 295.4L943.2 293.5L945.0 292.2L946.8 291.1L948.6 290.6L950.3 289.4L952.1 287.7L953.9 284.4L955.6 281.9L957.4 279.4L959.2 277.9L960.9 277.0L962.7 273.8L964.5 271.7L966.3 269.5L968.0 267.3L969.8 265.1L971.6 263.8L973.3 263.0L975.1 260.1L976.9 258.1L978.6 256.3L980.4 254.5L982.2 252.7L984.0 251.6L985.7 250.9L987.5 248.4L989.3 246.6L991.0 244.9L992.8 243.3L994.6 241.8L996.4 240.9L998.1 240.2L999.9 238.4L1001.7 237.1L1003.4 235.9L1005.2 234.9L1007.0 233.8L1008.7 233.2L1010.5 232.7L1012.3 231.5L1014.1 230.7L1015.8 230.1L1017.6 229.4L1019.4 228.8L1021.1 228.5L1022.9 228.2L1024.7 227.4L1026.4 227.0L1028.2 226.6L1030.0 226.2L1031.8 225.8L1033.5 225.6L1035.3 225.5L1037.1 225.1L1038.8 224.7L1040.6 224.4L1042.4 224.0L1044.2 223.6L1045.9 223.4L1047.7 223.2L1049.5 222.6L1051.2 222.0L1053.0 221.3L1054.8 220.5L1056.5 219.6L1058.3 218.9L1060.1 218.5L1061.9 216.6L1063.6 214.8L1065.4 212.7L1067.2 210.5L1068.9 208.2L1070.7 206.5L1072.5 205.1L1074.2 201.8L1076.0 199.2L1077.8 196.6L1079.6 194.1L1081.3 191.6L1083.1 189.8L1084.9 188.5L1086.6 185.0L1088.4 182.4L1090.2 179.8L1092.0 177.2L1093.7 174.7L1095.5 173.1L1097.3 171.8L1099.0 168.3L1100.8 165.9L1102.6 163.5L1104.3 161.1L1106.1 158.7L1107.9 157.0L1109.7 155.8L1111.4 152.4L1113.2 149.8L1115.0 147.2L1116.7 144.6L1118.5 141.9L1120.3 140.0L1122.0 138.3L1123.8 134.2L1125.6 131.1L1127.4 127.9L1129.1 124.6L1130.9 121.3L1132.7 119.3L1134.4 117.8L1136.2 113.8L1138.0 110.8L1139.8 107.8L1141.5 104.4L1143.3 101.2L1145.1 99.2L1146.8 97.9L1148.6 96.9" fill="none" stroke="#ff0000" stroke-width="11.2" stroke-linecap="round" stroke-linejoin="round"/>
<g font-size="18" font-weight="bold" fill="#ff0000" stroke="#ff0000" stroke-width="0.8" text-anchor="middle">
<text x="734" y="476" textLength="56" lengthAdjust="spacingAndGlyphs">140316</text>
<text x="897" y="345.5" textLength="47" lengthAdjust="spacingAndGlyphs">281171</text>
<text x="1147.5" y="84.8" textLength="54" lengthAdjust="spacingAndGlyphs">561812</text>
</g>
<g stroke="#000" stroke-width="1.4" fill="none">
<path d="M147 75.5V637H1187.5" stroke="#333"/>
<path d="M147 89V616"/>
<path d="M136.5 616.0H147"/>
<path d="M136.5 510.6H147"/>
<path d="M136.5 405.1H147"/>
<path d="M136.5 299.7H147"/>
<path d="M136.5 194.3H147"/>
<path d="M136.5 88.8H147"/>
<path d="M734 637V648"/>
<path d="M1198 616H1187.5V154H1198"/>
<path d="M1187.5 523.6H1198"/>
<path d="M1187.5 431.2H1198"/>
<path d="M1187.5 338.8H1198"/>
<path d="M1187.5 246.4H1198"/>
</g>
<g class="t">
<g font-size="16.4" fill="#000" text-anchor="end">
<text x="124.8" y="620.9" textLength="9.4" lengthAdjust="spacingAndGlyphs">0</text>
<text x="124.8" y="515.5" textLength="38.5" lengthAdjust="spacingAndGlyphs">1000</text>
<text x="124.8" y="410.0" textLength="38.5" lengthAdjust="spacingAndGlyphs">2000</text>
<text x="124.8" y="304.6" textLength="38.5" lengthAdjust="spacingAndGlyphs">3000</text>
<text x="124.8" y="199.2" textLength="38.5" lengthAdjust="spacingAndGlyphs">4000</text>
<text x="124.8" y="93.7" textLength="38.5" lengthAdjust="spacingAndGlyphs">5000</text>
</g>
<g font-size="16.4" fill="#000" text-anchor="middle">
<text transform="translate(1223.8 616.5) rotate(-90)" textLength="46" lengthAdjust="spacingAndGlyphs">0e+00</text>
<text transform="translate(1223.8 524.1) rotate(-90)" textLength="46" lengthAdjust="spacingAndGlyphs">1e+05</text>
<text transform="translate(1223.8 431.7) rotate(-90)" textLength="46" lengthAdjust="spacingAndGlyphs">2e+05</text>
<text transform="translate(1223.8 339.3) rotate(-90)" textLength="46" lengthAdjust="spacingAndGlyphs">3e+05</text>
<text transform="translate(1223.8 246.9) rotate(-90)" textLength="46" lengthAdjust="spacingAndGlyphs">4e+05</text>
<text transform="translate(1223.8 154.5) rotate(-90)" textLength="46" lengthAdjust="spacingAndGlyphs">5e+05</text>
</g>
<text transform="translate(79.3 356) rotate(-90)" font-size="16.4" text-anchor="middle" textLength="214" lengthAdjust="spacingAndGlyphs">Αριθμός νέων κρουσμάτων</text>
<text transform="translate(1263.5 358) rotate(-90)" font-size="16.4" text-anchor="middle" textLength="258" lengthAdjust="spacingAndGlyphs">Συνολικός αριθμός κρουσμάτων</text>
<text x="734" y="673.5" font-size="16.4" text-anchor="middle" textLength="34.5" lengthAdjust="spacingAndGlyphs">2021</text>
<text x="667" y="715" font-size="16.4" text-anchor="middle" textLength="238" lengthAdjust="spacingAndGlyphs">Ημερομηνία λήψης δείγματος</text>
<text x="151.25" y="49" font-size="19" font-weight="bold" style="stroke-width:.45px" textLength="1031" lengthAdjust="spacingAndGlyphs">Διάγραμμα 1: Αριθμός εργαστηριακά επιβεβαιωμένων κρουσμάτων COVID-19 στην Ελλάδα, 23 Αυγούστου 2021</text>
<text x="43" y="770" font-size="18.5" textLength="1248" lengthAdjust="spacingAndGlyphs">Σημ.: οι στήλες στο Διάγραμμα 1 εκφράζουν τον αριθμό νέων κρουσμάτων με βάση την ημερομηνία λήψης εργαστηριακού δείγματος, και όχι</text>
<text x="43" y="799" font-size="18.5" textLength="497" lengthAdjust="spacingAndGlyphs">με βάση την ημερομηνία ανακοίνωσης των κρουσμάτων.</text>
<path d="M43 815H542" stroke="#222" stroke-width="1.3"/>
<text x="67" y="829" font-size="11">1</text>
<text x="74" y="839.5" font-size="16" textLength="802" lengthAdjust="spacingAndGlyphs">Ο συνολικός αριθμός επιβεβαιωμένων κρουσμάτων έχει αναθεωρηθεί κατόπιν ελέγχου των δεδομένων.</text>
</g>
</svg>
</body></html>
